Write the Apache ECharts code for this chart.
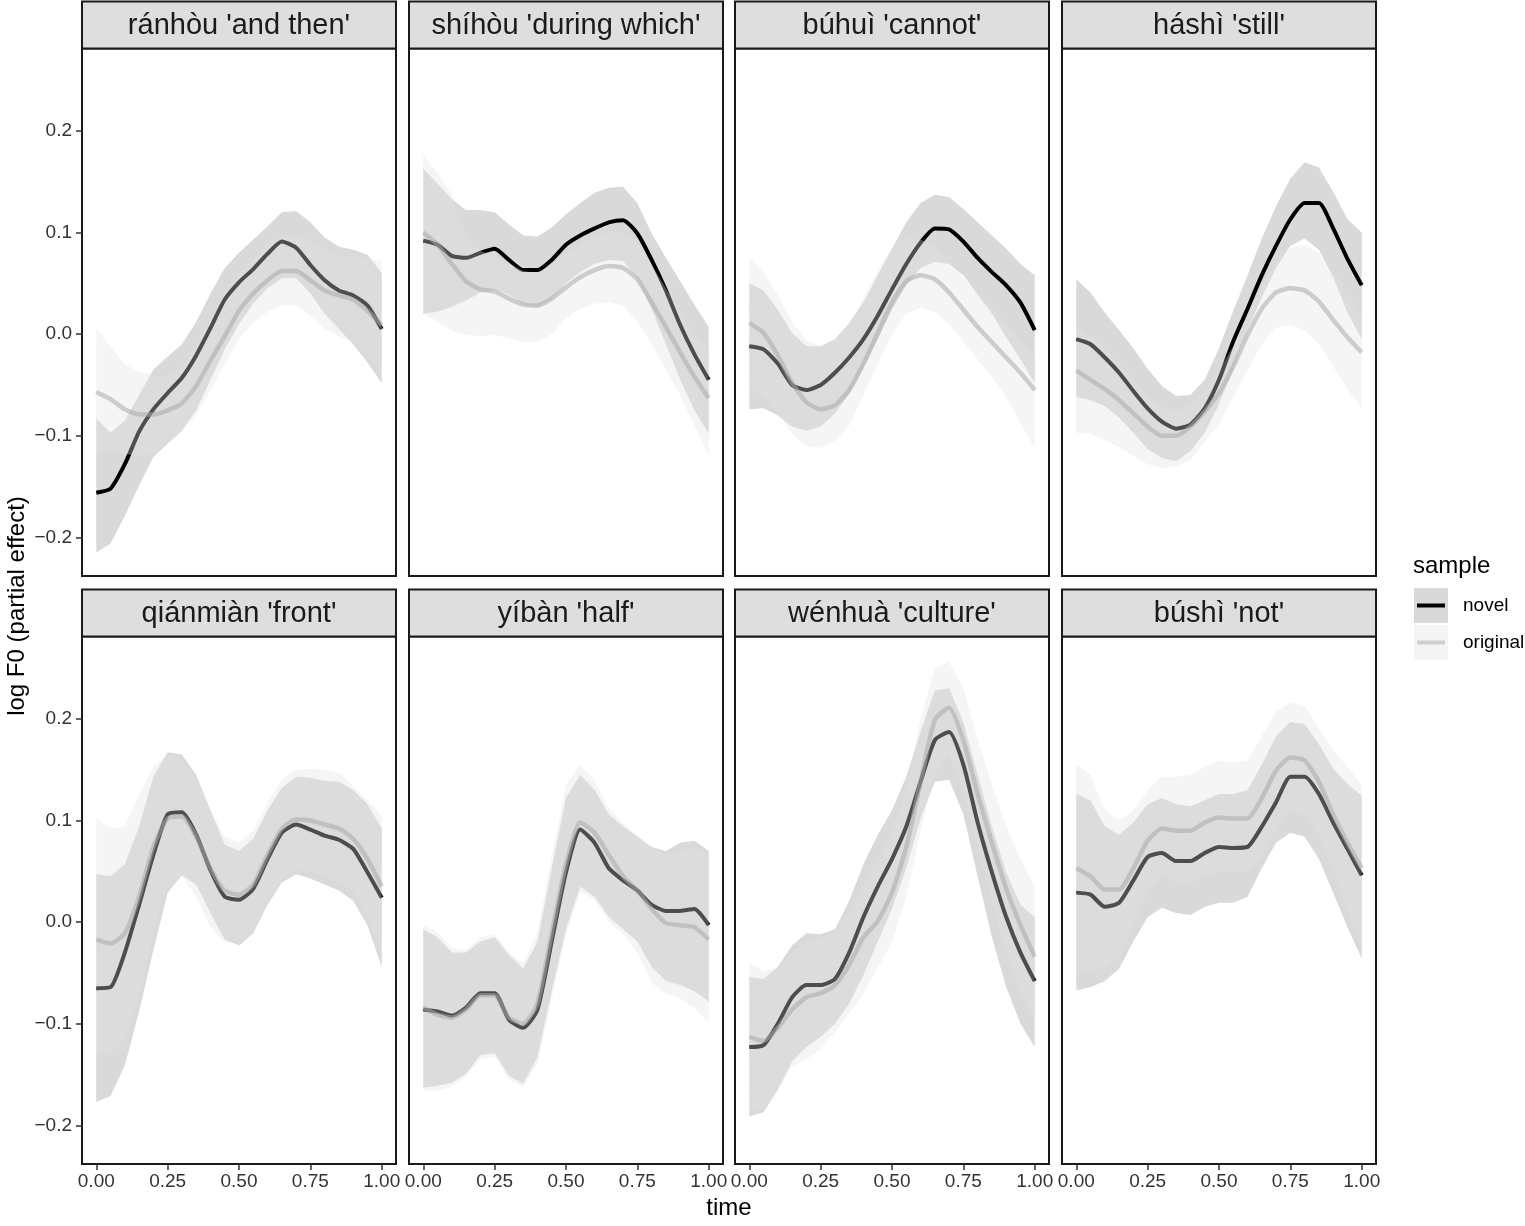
<!DOCTYPE html>
<html>
<head>
<meta charset="utf-8">
<title>log F0 (partial effect) by word</title>
<script src="https://cdn.jsdelivr.net/npm/echarts@6.0.0/dist/echarts.min.js"></script>
<style>
  html, body { margin: 0; padding: 0; background: #fff; }
  #chart-container { width: 1525px; height: 1226px; }
</style>
</head>
<body>
<div id="chart-container"></div>
<script>
// normalised time points of the fitted smooths
const times = [0, 0.05, 0.1, 0.15, 0.2, 0.25, 0.3, 0.35, 0.4, 0.45, 0.5,
  0.55, 0.6, 0.65, 0.7, 0.75, 0.8, 0.85, 0.9, 0.95, 1];

const xTicks = [0, 0.25, 0.5, 0.75, 1];
const yTicks = [-0.2, -0.1, 0, 0.1, 0.2];

const wordTitles = ["ránhòu 'and then'", "shíhòu 'during which'", "búhuì 'cannot'", "háshì 'still'",
  "qiánmiàn 'front'", "yíbàn 'half'", "wénhuà 'culture'", "búshì 'not'"];

// ránhòu
const ranhouNovel = [-0.156,-0.152,-0.128,-0.096,-0.074,-0.058,-0.043,-0.021,0.006,0.034,0.051,0.064,0.079,0.091,0.085,0.068,0.053,0.043,0.038,0.028,0.005];
const ranhouNovelHi = [-0.083,-0.097,-0.085,-0.060,-0.035,-0.022,-0.010,0.012,0.040,0.065,0.080,0.093,0.106,0.120,0.121,0.110,0.095,0.086,0.083,0.078,0.060];
const ranhouNovelLo = [-0.215,-0.206,-0.179,-0.149,-0.121,-0.108,-0.095,-0.075,-0.045,-0.015,0.010,0.030,0.045,0.055,0.055,0.040,0.020,0.005,-0.010,-0.028,-0.048];
const ranhouOrig = [-0.057,-0.064,-0.074,-0.079,-0.079,-0.075,-0.068,-0.051,-0.026,-0.002,0.023,0.040,0.053,0.062,0.062,0.053,0.043,0.038,0.034,0.023,0.009];
const ranhouOrigHi = [0.006,-0.012,-0.030,-0.037,-0.040,-0.042,-0.032,-0.010,0.015,0.042,0.060,0.075,0.088,0.097,0.098,0.092,0.084,0.078,0.076,0.074,0.072];
const ranhouOrigLo = [-0.120,-0.115,-0.118,-0.120,-0.118,-0.108,-0.095,-0.080,-0.055,-0.030,-0.005,0.012,0.022,0.028,0.028,0.018,0.005,-0.002,-0.008,-0.020,-0.040];

// shíhòu
const shihouNovel = [0.092,0.088,0.077,0.075,0.080,0.084,0.073,0.063,0.063,0.073,0.088,0.097,0.104,0.110,0.112,0.099,0.073,0.043,0.009,-0.020,-0.045];
const shihouNovelHi = [0.163,0.148,0.133,0.122,0.122,0.120,0.108,0.097,0.096,0.105,0.118,0.129,0.139,0.144,0.145,0.129,0.099,0.075,0.052,0.029,0.007];
const shihouNovelLo = [0.020,0.022,0.027,0.033,0.041,0.044,0.039,0.029,0.027,0.035,0.050,0.061,0.069,0.073,0.072,0.055,0.025,-0.010,-0.045,-0.075,-0.098];
const shihouOrig = [0.100,0.088,0.069,0.052,0.044,0.042,0.035,0.029,0.028,0.035,0.046,0.056,0.063,0.067,0.065,0.054,0.031,0.007,-0.018,-0.042,-0.063];
const shihouOrigHi = [0.176,0.159,0.137,0.095,0.082,0.076,0.070,0.062,0.060,0.066,0.078,0.088,0.095,0.100,0.100,0.090,0.068,0.045,0.022,0.000,-0.015];
const shihouOrigLo = [0.020,0.012,0.003,-0.001,-0.002,-0.001,-0.004,-0.008,-0.008,0.000,0.015,0.025,0.030,0.031,0.028,0.012,-0.010,-0.035,-0.060,-0.090,-0.120];

// búhuì
const buhuiNovel = [-0.012,-0.015,-0.029,-0.050,-0.055,-0.050,-0.038,-0.023,-0.005,0.018,0.044,0.069,0.090,0.104,0.103,0.091,0.075,0.061,0.048,0.031,0.004];
const buhuiNovelHi = [0.050,0.043,0.024,0.001,-0.012,-0.012,-0.005,0.011,0.031,0.058,0.084,0.110,0.129,0.137,0.135,0.123,0.110,0.097,0.084,0.069,0.058];
const buhuiNovelLo = [-0.074,-0.073,-0.080,-0.091,-0.095,-0.091,-0.078,-0.059,-0.033,-0.005,0.024,0.048,0.065,0.071,0.069,0.058,0.039,0.020,-0.003,-0.025,-0.048];
const buhuiOrig = [0.011,0.001,-0.021,-0.048,-0.067,-0.074,-0.070,-0.055,-0.029,0.001,0.031,0.052,0.058,0.054,0.041,0.024,0.007,-0.008,-0.023,-0.038,-0.055];
const buhuiOrigHi = [0.075,0.061,0.039,0.012,-0.006,-0.012,-0.005,0.010,0.035,0.062,0.085,0.095,0.093,0.086,0.072,0.056,0.040,0.025,0.010,-0.005,-0.020];
const buhuiOrigLo = [-0.055,-0.062,-0.078,-0.098,-0.110,-0.112,-0.105,-0.090,-0.060,-0.030,0.000,0.020,0.026,0.022,0.010,-0.008,-0.025,-0.042,-0.062,-0.088,-0.112];

// háshì
const hashiNovel = [-0.005,-0.010,-0.023,-0.038,-0.056,-0.073,-0.086,-0.093,-0.089,-0.073,-0.045,-0.007,0.025,0.058,0.087,0.113,0.129,0.129,0.104,0.074,0.048];
const hashiNovelHi = [0.054,0.041,0.021,0.004,-0.014,-0.034,-0.051,-0.061,-0.060,-0.045,-0.014,0.023,0.058,0.094,0.126,0.153,0.169,0.164,0.140,0.113,0.100];
const hashiNovelLo = [-0.062,-0.065,-0.071,-0.082,-0.097,-0.113,-0.122,-0.125,-0.115,-0.097,-0.069,-0.034,0.004,0.036,0.065,0.087,0.094,0.083,0.056,0.021,-0.005];
const hashiOrig = [-0.036,-0.045,-0.054,-0.065,-0.078,-0.091,-0.100,-0.100,-0.091,-0.076,-0.058,-0.032,-0.001,0.025,0.041,0.045,0.043,0.032,0.014,-0.003,-0.018];
const hashiOrigHi = [0.008,-0.002,-0.014,-0.028,-0.045,-0.060,-0.072,-0.076,-0.070,-0.055,-0.035,-0.012,0.018,0.048,0.072,0.085,0.088,0.080,0.060,0.038,0.020];
const hashiOrigLo = [-0.097,-0.098,-0.104,-0.111,-0.120,-0.128,-0.132,-0.130,-0.124,-0.106,-0.089,-0.062,-0.036,-0.010,0.006,0.009,0.004,-0.010,-0.032,-0.054,-0.073];

// qiánmiàn
const qianmianNovel = [-0.065,-0.064,-0.030,0.017,0.066,0.106,0.108,0.086,0.051,0.025,0.022,0.033,0.062,0.088,0.096,0.091,0.085,0.081,0.072,0.049,0.024];
const qianmianNovelHi = [0.047,0.045,0.057,0.094,0.143,0.167,0.165,0.145,0.110,0.076,0.070,0.082,0.110,0.132,0.143,0.142,0.139,0.138,0.130,0.116,0.092];
const qianmianNovelLo = [-0.177,-0.171,-0.141,-0.088,-0.028,0.029,0.046,0.037,0.009,-0.017,-0.023,-0.011,0.017,0.039,0.047,0.043,0.037,0.031,0.021,-0.003,-0.044];
const qianmianOrig = [-0.017,-0.021,-0.011,0.025,0.074,0.102,0.104,0.084,0.053,0.031,0.027,0.037,0.066,0.092,0.101,0.100,0.096,0.092,0.082,0.062,0.035];
const qianmianOrigHi = [0.102,0.092,0.094,0.126,0.153,0.165,0.160,0.143,0.110,0.084,0.078,0.090,0.118,0.140,0.150,0.151,0.150,0.147,0.134,0.120,0.104];
const qianmianOrigLo = [-0.130,-0.130,-0.115,-0.075,-0.010,0.038,0.045,0.025,-0.005,-0.020,-0.020,-0.010,0.020,0.040,0.052,0.050,0.045,0.040,0.030,0.005,-0.035];

// yíbàn
const yibanNovel = [-0.086,-0.088,-0.092,-0.084,-0.070,-0.070,-0.096,-0.104,-0.086,-0.019,0.049,0.091,0.078,0.053,0.041,0.031,0.017,0.011,0.011,0.013,-0.003];
const yibanNovelHi = [-0.007,-0.015,-0.030,-0.030,-0.019,-0.015,-0.032,-0.046,-0.019,0.053,0.122,0.145,0.130,0.106,0.094,0.084,0.074,0.070,0.078,0.080,0.070];
const yibanNovelLo = [-0.163,-0.161,-0.158,-0.149,-0.131,-0.129,-0.151,-0.159,-0.133,-0.068,-0.007,0.035,0.025,0.005,-0.007,-0.019,-0.044,-0.058,-0.062,-0.068,-0.078];
const yibanOrig = [-0.084,-0.091,-0.094,-0.086,-0.072,-0.072,-0.094,-0.100,-0.080,-0.011,0.057,0.098,0.088,0.066,0.045,0.031,0.013,-0.001,-0.003,-0.005,-0.017];
const yibanOrigHi = [-0.003,-0.010,-0.025,-0.028,-0.015,-0.012,-0.030,-0.040,-0.010,0.065,0.135,0.155,0.140,0.112,0.097,0.086,0.074,0.066,0.070,0.074,0.066];
const yibanOrigLo = [-0.166,-0.166,-0.162,-0.152,-0.135,-0.133,-0.155,-0.162,-0.140,-0.075,-0.012,0.030,0.022,0.000,-0.012,-0.030,-0.060,-0.070,-0.075,-0.085,-0.098];

// wénhuà
const wenhuaNovel = [-0.123,-0.121,-0.100,-0.074,-0.062,-0.062,-0.056,-0.030,0.005,0.035,0.062,0.094,0.138,0.179,0.187,0.155,0.098,0.049,0.005,-0.030,-0.058];
const wenhuaNovelHi = [-0.054,-0.056,-0.044,-0.023,-0.011,-0.012,-0.007,0.021,0.057,0.086,0.110,0.143,0.187,0.228,0.230,0.197,0.145,0.094,0.049,0.017,0.005];
const wenhuaNovelLo = [-0.191,-0.187,-0.165,-0.137,-0.123,-0.113,-0.100,-0.080,-0.052,-0.019,0.013,0.053,0.102,0.138,0.140,0.106,0.045,-0.015,-0.064,-0.100,-0.123];
const wenhuaOrig = [-0.113,-0.117,-0.104,-0.086,-0.074,-0.070,-0.062,-0.042,-0.015,0.001,0.029,0.074,0.138,0.199,0.211,0.179,0.126,0.078,0.033,-0.003,-0.034];
const wenhuaOrigHi = [-0.040,-0.048,-0.045,-0.030,-0.020,-0.015,-0.010,0.010,0.040,0.062,0.090,0.130,0.200,0.250,0.256,0.230,0.180,0.135,0.095,0.062,0.035];
const wenhuaOrigLo = [-0.185,-0.185,-0.165,-0.142,-0.135,-0.125,-0.108,-0.090,-0.070,-0.045,-0.020,0.025,0.090,0.145,0.165,0.130,0.075,0.020,-0.030,-0.070,-0.100];

// búshì
const bushiNovel = [0.029,0.027,0.015,0.019,0.041,0.064,0.068,0.060,0.060,0.068,0.074,0.073,0.074,0.094,0.118,0.143,0.143,0.126,0.098,0.072,0.046];
const bushiNovelHi = [0.126,0.120,0.094,0.086,0.098,0.116,0.122,0.116,0.114,0.120,0.126,0.126,0.130,0.155,0.183,0.197,0.195,0.175,0.151,0.136,0.124];
const bushiNovelLo = [-0.067,-0.064,-0.058,-0.046,-0.019,0.005,0.014,0.009,0.007,0.015,0.019,0.019,0.025,0.053,0.078,0.088,0.084,0.062,0.029,-0.005,-0.036];
const bushiOrig = [0.053,0.045,0.032,0.032,0.053,0.080,0.092,0.090,0.090,0.098,0.103,0.102,0.102,0.122,0.149,0.162,0.159,0.138,0.106,0.078,0.053];
const bushiOrigHi = [0.155,0.145,0.110,0.100,0.110,0.130,0.143,0.143,0.145,0.153,0.159,0.157,0.159,0.183,0.207,0.216,0.213,0.191,0.169,0.153,0.134];
const bushiOrigLo = [-0.050,-0.050,-0.045,-0.035,-0.005,0.030,0.045,0.040,0.038,0.045,0.050,0.050,0.050,0.065,0.090,0.110,0.105,0.085,0.050,0.010,-0.025];

const panels = [
  { novel: [ranhouNovel, ranhouNovelLo, ranhouNovelHi], orig: [ranhouOrig, ranhouOrigLo, ranhouOrigHi] },
  { novel: [shihouNovel, shihouNovelLo, shihouNovelHi], orig: [shihouOrig, shihouOrigLo, shihouOrigHi] },
  { novel: [buhuiNovel, buhuiNovelLo, buhuiNovelHi], orig: [buhuiOrig, buhuiOrigLo, buhuiOrigHi] },
  { novel: [hashiNovel, hashiNovelLo, hashiNovelHi], orig: [hashiOrig, hashiOrigLo, hashiOrigHi] },
  { novel: [qianmianNovel, qianmianNovelLo, qianmianNovelHi], orig: [qianmianOrig, qianmianOrigLo, qianmianOrigHi] },
  { novel: [yibanNovel, yibanNovelLo, yibanNovelHi], orig: [yibanOrig, yibanOrigLo, yibanOrigHi] },
  { novel: [wenhuaNovel, wenhuaNovelLo, wenhuaNovelHi], orig: [wenhuaOrig, wenhuaOrigLo, wenhuaOrigHi] },
  { novel: [bushiNovel, bushiNovelLo, bushiNovelHi], orig: [bushiOrig, bushiOrigLo, bushiOrigHi] }
];

// layout (px)
const FONT = "'Liberation Sans', Arial, Helvetica, sans-serif";
const colLeft = [82, 409, 735, 1062];
const rowTop = [48.5, 636.5];
const panelW = 314;
const panelH = 527.5;
const stripH = 47;
const frameColor = '#1a1a1a';

const dom = document.getElementById('chart-container');
const myChart = echarts.init(dom, null, { renderer: 'canvas' });

const pairs = (arr) => times.map((t, k) => [t, arr[k]]);
const triples = (lo, hi) => times.map((t, k) => [t, lo[k], hi[k]]);

// one closed polygon per confidence band, placed through the axis scales
const ribbon = (fill) => (params, api) => {
  if (params.dataIndexInside !== 0) return null;
  const upper = [], lower = [];
  for (let k = 0; k < params.dataInsideLength; k++) {
    const t = api.value(0, k);
    upper.push(api.coord([t, api.value(2, k)]));
    lower.push(api.coord([t, api.value(1, k)]));
  }
  return {
    type: 'polygon',
    shape: { points: upper.concat(lower.reverse()) },
    style: { fill: fill }
  };
};

const grids = [], xAxes = [], yAxes = [], series = [], graphics = [];

panels.forEach((p, i) => {
  const col = i % 4, row = Math.floor(i / 4);
  const left = col === 0, bottom = row === 1;

  grids.push({
    left: colLeft[col], top: rowTop[row], width: panelW, height: panelH,
    show: true, backgroundColor: '#fff', borderColor: frameColor, borderWidth: 2,
    containLabel: false, outerBoundsMode: 'none'
  });

  xAxes.push({
    type: 'value', gridIndex: i, min: -0.05, max: 1.05,
    splitLine: { show: false },
    axisLine: { show: bottom, onZero: false, lineStyle: { color: frameColor, width: 2 } },
    axisTick: { show: bottom, customValues: xTicks, length: 6, lineStyle: { color: '#333', width: 1.5 } },
    axisLabel: {
      show: bottom, customValues: xTicks, margin: 8,
      fontFamily: FONT, fontSize: 19, color: '#333',
      formatter: (v) => v.toFixed(2)
    }
  });

  yAxes.push({
    type: 'value', gridIndex: i, min: -0.238, max: 0.281,
    splitLine: { show: false },
    axisLine: { show: left, onZero: false, lineStyle: { color: frameColor, width: 2 } },
    axisTick: { show: left, customValues: yTicks, length: 6, lineStyle: { color: '#333', width: 1.5 } },
    axisLabel: {
      show: left, customValues: yTicks, margin: 10,
      fontFamily: FONT, fontSize: 19, color: '#333',
      formatter: (v) => (v < -1e-9 ? '\u2212' : '') + Math.abs(v).toFixed(1)
    }
  });

  const axes = { xAxisIndex: i, yAxisIndex: i, silent: true, animation: false };
  const line = Object.assign({ type: 'line', symbol: 'none', showSymbol: false, smooth: 0.2 }, axes);
  const band = Object.assign({ type: 'custom', clip: true, encode: { x: 0, y: [1, 2] } }, axes);

  // drawing order: novel ribbon, novel line, original ribbon (translucent), original line
  series.push(Object.assign({}, band, { z: 1, data: triples(p.novel[1], p.novel[2]), renderItem: ribbon('#d9d9d9') }));
  series.push(Object.assign({}, line, { z: 2, name: 'novel', data: pairs(p.novel[0]),
    lineStyle: { color: '#000', width: 4 } }));
  series.push(Object.assign({}, band, { z: 3, data: triples(p.orig[1], p.orig[2]), renderItem: ribbon('rgba(226,226,226,0.34)') }));
  series.push(Object.assign({}, line, { z: 4, name: 'original', data: pairs(p.orig[0]),
    lineStyle: { color: 'rgba(170,170,170,0.55)', width: 4.5 } }));

  // facet strip
  const sy = rowTop[row] - stripH;
  graphics.push({
    type: 'group', children: [
      { type: 'rect', shape: { x: colLeft[col], y: sy, width: panelW, height: stripH },
        style: { fill: '#dedede', stroke: frameColor, lineWidth: 2 } },
      { type: 'text', x: colLeft[col] + panelW / 2, y: sy + stripH / 2 + 1,
        style: { text: wordTitles[i], fill: '#1a1a1a', font: '29px ' + FONT, align: 'center', verticalAlign: 'middle' } }
    ]
  });
});

// axis titles
graphics.push({ type: 'text', x: 729, y: 1208,
  style: { text: 'time', fill: '#000', font: '24px ' + FONT, align: 'center', verticalAlign: 'middle' } });
graphics.push({ type: 'text', x: 17, y: 606, rotation: Math.PI / 2,
  style: { text: 'log F0 (partial effect)', fill: '#000', font: '24px ' + FONT, align: 'center', verticalAlign: 'middle' } });

// legend
graphics.push({ type: 'group', children: [
  { type: 'text', x: 1413, y: 566, style: { text: 'sample', fill: '#000', font: '24px ' + FONT, align: 'left', verticalAlign: 'middle' } },
  { type: 'rect', shape: { x: 1414, y: 588, width: 34, height: 35 }, style: { fill: '#d9d9d9' } },
  { type: 'line', shape: { x1: 1417, y1: 605.5, x2: 1445, y2: 605.5 }, style: { stroke: '#000', lineWidth: 4 } },
  { type: 'text', x: 1463, y: 605.5, style: { text: 'novel', fill: '#000', font: '19px ' + FONT, align: 'left', verticalAlign: 'middle' } },
  { type: 'rect', shape: { x: 1414, y: 625, width: 34, height: 35 }, style: { fill: '#f4f4f4' } },
  { type: 'line', shape: { x1: 1417, y1: 642.5, x2: 1445, y2: 642.5 }, style: { stroke: '#d0d0d0', lineWidth: 4 } },
  { type: 'text', x: 1463, y: 642.5, style: { text: 'original', fill: '#000', font: '19px ' + FONT, align: 'left', verticalAlign: 'middle' } }
] });

const option = {
  backgroundColor: '#fff',
  animation: false,
  grid: grids,
  xAxis: xAxes,
  yAxis: yAxes,
  series: series,
  graphic: graphics
};

myChart.setOption(option);
window.addEventListener('resize', myChart.resize);
</script>
</body>
</html>
